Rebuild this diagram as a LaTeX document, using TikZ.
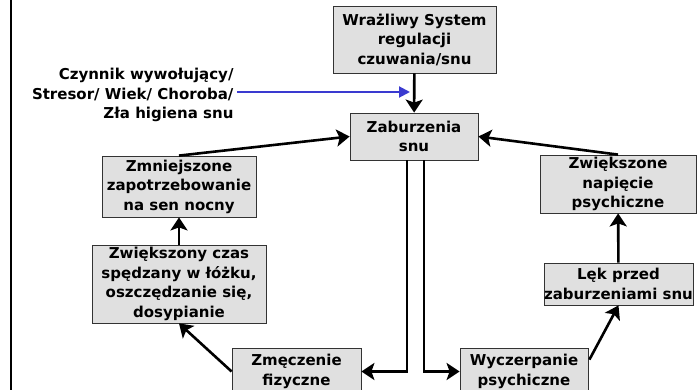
\documentclass[tikz,border=0pt]{standalone}
\usepackage{fontspec}
\setmainfont{DejaVu Sans}
\usetikzlibrary{arrows.meta,calc}
\definecolor{boxgray}{HTML}{E0E0E0}
\definecolor{cblue}{HTML}{3A3AD0}

\begin{document}
\begin{tikzpicture}[
  x=1pt, y=-1pt,
  font=\bfseries\fontsize{15}{19.5}\selectfont,
  tip/.style={-{Stealth[length=13pt,width=17pt,inset=3pt]}},
  btip/.style={-{Triangle[length=11pt,width=11pt]}},
  box/.style={draw=black!80, line width=0.8pt, fill=boxgray, align=center,
    inner sep=0pt},
  link/.style={line width=2.6pt, tip},
  word/.style={align=right, anchor=east}
]
\useasboundingbox (0,0) rectangle (698,390);
\draw[line width=2pt] (11,-2) -- (11,392);

% boxes
\node[box, minimum width=163pt, minimum height=67pt] (wraz) at (414.5,39.5)
  {Wrażliwy System\\regulacji\\czuwania/snu};
\node[box, minimum width=128pt, minimum height=47pt] (zab) at (414,136.5)
  {Zaburzenia\\snu};
\node[box, minimum width=154pt, minimum height=61pt] (zmn) at (179,186.5)
  {Zmniejszone\\zapotrzebowanie\\na sen nocny};
\node[box, minimum width=174pt, minimum height=78pt] (zwc) at (179,284)
  {Zwiększony czas\\spędzany w łóżku,\\oszczędzanie się,\\dosypianie};
\node[box, minimum width=129pt, minimum height=47pt] (zme) at (296.5,371.5)
  {Zmęczenie\\fizyczne};
\node[box, minimum width=128pt, minimum height=47pt] (wyc) at (524,371.5)
  {Wyczerpanie\\psychiczne};
\node[box, minimum width=147pt, minimum height=42pt] (lek) at (618.5,284)
  {Lęk przed\\zaburzeniami snu};
\node[box, minimum width=156pt, minimum height=58pt] (zwn) at (618,184)
  {Zwiększone\\napięcie\\psychiczne};

% trigger
\node[word] (czyn) at (237,95)
  {Czynnik wywołujący/\\Stresor/ Wiek/ Choroba/\\Zła higiena snu};
\coordinate (hit) at (410,92);
\draw[cblue, line width=2pt, btip] (czyn.east |- hit) -- (hit);

% arrows
\draw[link] (wraz) -- (zab);
\draw[link] (zmn.north) -- (zab.west);
\draw[link] (zwc) -- (zmn);
\draw[link] (zme.west) -- (zwc.south);
\draw[link] ($(zab.south)+(-7,0)$) |- (zme.east);
\draw[link] ($(zab.south)+(10,0)$) |- (wyc.west);
\draw[link] ($(wyc.north east)+(1,12)$) -- (lek.south);
\draw[link] (lek) -- (zwn);
\draw[link] (zwn.north) -- (zab.east);
\end{tikzpicture}
\end{document}
